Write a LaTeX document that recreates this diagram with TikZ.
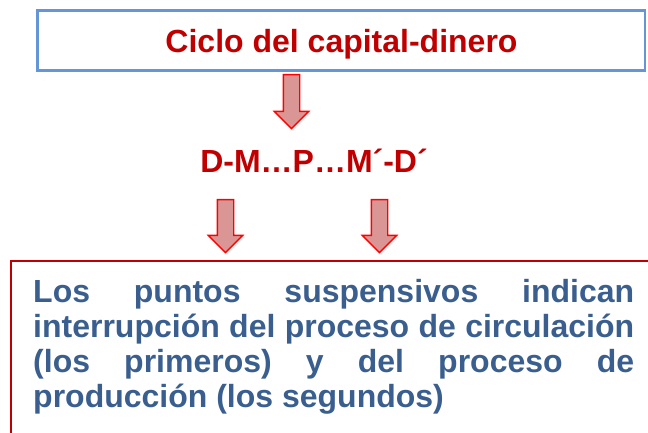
\documentclass[tikz,border=0pt]{standalone}
\usepackage{fontspec}
\setmainfont{Liberation Sans}
\usetikzlibrary{shapes.arrows}
\definecolor{redtxt}{HTML}{C00000}
\definecolor{bluetxt}{HTML}{3A5F8E}
\definecolor{topline}{HTML}{6495D6}
\definecolor{arrfill}{HTML}{D99694}
\definecolor{arrline}{HTML}{FF0000}
\begin{document}
\begin{tikzpicture}[x=1pt,y=-1pt,
  titlebox/.style={draw=topline,line width=2.5pt},
  notebox/.style={draw=redtxt,line width=2pt},
  blockarrow/.style={single arrow,draw=arrline,fill=arrfill,line width=1.4pt,
    single arrow head extend=9pt,single arrow tip angle=90,
    inner xsep=0pt,inner ysep=7.5pt,rotate=-90},
  redlabel/.style={text=redtxt,font=\bfseries\fontsize{32}{36}\selectfont,inner sep=0pt},
]
\useasboundingbox (0,0) rectangle (648,433);
% top box
\draw[titlebox] (37.5,10.5) rectangle (645,70.5);
\node[redlabel,anchor=base] (title) at (341.5,52.5) {Ciclo del capital-dinero};
% formula
\node[redlabel,anchor=base] (formula) at (314,172.7) {D-M…P…M´-D´};
% bottom box
\draw[notebox] (11,261) rectangle (660,450);
\node[anchor=north west,inner sep=0pt,text width=601pt,align=justify,text=bluetxt,
  font=\bfseries\fontsize{32}{35}\selectfont] (note) at (33,279)
  {\tolerance=10000\hyphenpenalty=10000 Los puntos suspensivos indican\linebreak
   interrupción del proceso de circulación\linebreak
   (los primeros) y del proceso de\linebreak
   producción (los segundos)};
% block arrows
\node[blockarrow,minimum height=54pt] (a1) at (291.5,97.5) {};
\node[blockarrow,minimum height=53pt] (a2) at (225.5,222) {};
\node[blockarrow,minimum height=53pt] (a3) at (379.5,222) {};
\end{tikzpicture}
\end{document}
